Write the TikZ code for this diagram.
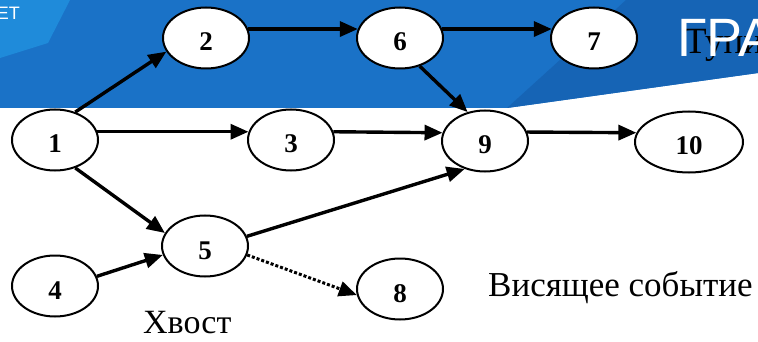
\documentclass[tikz,border=0pt]{standalone}
\usepackage{fontspec}
\setmainfont{Liberation Serif}
\newfontfamily\headfont{Liberation Sans}
\usetikzlibrary{shapes.geometric,arrows.meta}
\definecolor{bandblue}{HTML}{1A72C7}
\definecolor{banddark}{HTML}{1664B5}
\definecolor{bandlight}{HTML}{1F8BDA}
\begin{document}
\begin{tikzpicture}[x=1pt,y=-1pt,
  event/.style={ellipse,draw=black,line width=2pt,fill=white,
    minimum width=86pt,minimum height=61pt,inner sep=0pt,
    text height=26pt,text depth=0pt,
    font=\fontsize{27}{30}\selectfont\bfseries},
  link/.style={line width=3.4pt,-{Triangle[length=18pt,width=15pt]}},
  dottedlink/.style={line width=3pt,dash pattern=on 3pt off 2pt,
    -{Triangle[length=18pt,width=15pt]}},
  caption/.style={anchor=base west,inner sep=0pt,text=black},
  headtext/.style={inner sep=0pt,text=white}]
  \useasboundingbox (0,0) rectangle (758,342);
  \fill[white] (0,0) rectangle (758,342);

  % slide header band
  \fill[bandblue] (0,0) -- (758,0) -- (758,73) -- (507,108) -- (0,108) -- cycle;
  \fill[banddark] (626,0) -- (758,0) -- (758,73) -- (507,108) -- cycle;
  \fill[bandlight] (0,0) -- (70,0) -- (48,43) -- (0,58) -- cycle;

  % labels
  \node[caption,font=\fontsize{37}{40}\selectfont] (deadend) at (684,54) {Тупик};
  \node[headtext,anchor=base west,font=\headfont\fontsize{54}{60}\selectfont] (title) at (677,57) {ГРА};
  \node[headtext,anchor=base east,font=\headfont\fontsize{18}{20}\selectfont] (org) at (20,20) {ЕТ};
  \node[caption,font=\fontsize{35}{40}\selectfont] (hanging) at (488,296) {Висящее событие};
  \node[caption,font=\fontsize{34}{38}\selectfont] (tail) at (143,333) {Хвост};

  % events
  \node[event] (n1)  at (55,140)  {1};
  \node[event] (n2)  at (206,38)  {2};
  \node[event] (n3)  at (291,140) {3};
  \node[event] (n4)  at (55,286)  {4};
  \node[event] (n5)  at (205,246) {5};
  \node[event] (n6)  at (400,38)  {6};
  \node[event] (n7)  at (594,38)  {7};
  \node[event] (n8)  at (400,289) {8};
  \node[event] (n9)  at (485,141) {9};
  \node[event,minimum width=108pt] (n10) at (689,142) {10};

  % works
  \draw[link] (n1.54)  -- (n2.199);
  \draw[link] (n1.11)  -- (n3.169);
  \draw[link] (n1.-54) -- (n5.162);
  \draw[link] (n2.12)  -- (n6.168);
  \draw[link] (n6.12)  -- (n7.168);
  \draw[link] (n6.-55) -- (n9.121);
  \draw[link] (n3.11)  -- (n9.169);
  \draw[link] (n9.12)  -- (n10.170);
  \draw[link] (n4.13)  -- (n5.192);
  \draw[link] (n5.13)  -- (n9.234);
  \draw[dottedlink] (n5.-12) -- (n8.188);
\end{tikzpicture}
\end{document}
